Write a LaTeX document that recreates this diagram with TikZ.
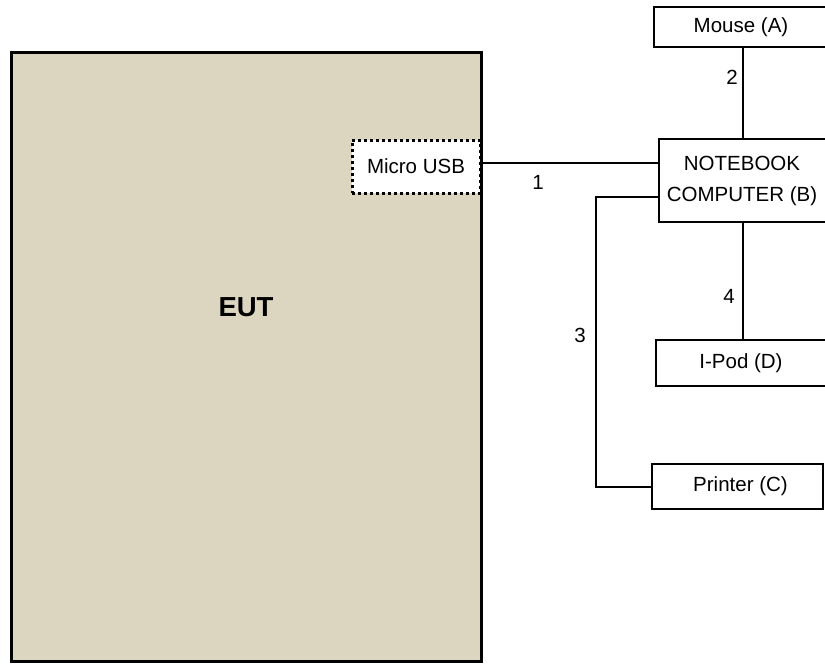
\documentclass[tikz,border=0pt]{standalone}
\usepackage{fontspec}
\setmainfont{Liberation Sans}
\definecolor{eutfill}{RGB}{220,214,192}
\begin{document}
\begin{tikzpicture}[x=1pt,y=-1pt,
  txt/.style={font=\fontsize{20.5}{31}\selectfont},
  dev/.style={draw=black,line width=2pt,fill=white,rectangle,inner sep=0pt,align=center,txt},
  wire/.style={line width=2pt},
  lbl/.style={inner sep=0pt,txt}]
\clip (0,0) rectangle (825,665);
\fill[white] (0,0) rectangle (825,665);
% EUT
\node[draw=black,line width=3pt,fill=eutfill,rectangle,inner sep=0pt,
  minimum width=469.5pt,minimum height=608.5pt] (eut) at (246.25,356.75) {};
\node[lbl,font=\fontsize{27.5}{33}\selectfont\bfseries] (eutl) at (246,307) {EUT};
% Micro USB port
\node[rectangle,fill=white,draw=black,line width=3pt,dash pattern=on 3pt off 3pt,
  inner sep=0pt,minimum width=128pt,minimum height=53pt,txt] (usb) at (416,166.5) {Micro USB};
% devices (right edges run past the picture's edge)
\node[dev,minimum width=182pt,minimum height=40pt] (mouse) at (745,27) {\hspace*{-8pt}Mouse (A)};
\node[dev,minimum width=176pt,minimum height=83pt] (nb) at (747,180.5) {\hspace*{-10pt}NOTEBOOK\\\hspace*{-10pt}COMPUTER (B)};
\node[dev,minimum width=180pt,minimum height=46pt] (ipod) at (746,363) {\hspace*{-10pt}I-Pod (D)};
\node[dev,minimum width=171pt,minimum height=45pt] (pr) at (737.5,486.5) {\hspace*{6pt}Printer (C)};
% connectors
\draw[wire] ([yshift=3.5pt]usb.east) -- ([yshift=3.5pt]usb.east -| nb.west);
\draw[wire] (mouse.south -| 743,0) -- (nb.north -| 743,0);
\draw[wire] (nb.south -| 743,0) -- (ipod.north -| 743,0);
\draw[wire] ([yshift=-16.5pt]nb.west) -- ++(-62,0) |- (pr.west);
% labels
\node[lbl] (l1) at (538,182) {1};
\node[lbl] (l2) at (732,77) {2};
\node[lbl] (l3) at (580,335) {3};
\node[lbl] (l4) at (729,296) {4};
\end{tikzpicture}
\end{document}
